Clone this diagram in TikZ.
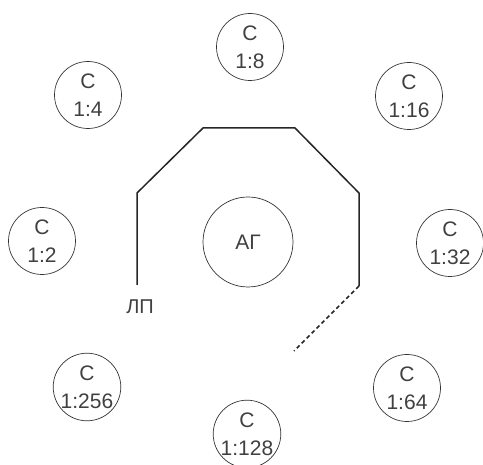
\documentclass[tikz,border=0pt]{standalone}
\usepackage{fontspec}
\setmainfont{Liberation Sans}
\begin{document}
\begin{tikzpicture}[x=1pt,y=-1pt,
  cnode/.style={circle,draw=black!80,line width=0.7pt,minimum size=67pt,inner sep=0pt,align=center,
    font=\fontsize{21}{28}\selectfont,text=black!75},
  agnode/.style={circle,draw=black!80,line width=0.7pt,minimum size=90pt,inner sep=0pt,
    font=\fontsize{21}{25}\selectfont,text=black!75},
  wall/.style={line width=1.5pt,draw=black!85,line join=round},
  dwall/.style={line width=1.5pt,draw=black!85,dash pattern=on 4pt off 3pt}]
\useasboundingbox (0,0) rectangle (483,465);
\node[cnode] (c8) at (250,47) {C\\1:8};
\node[cnode] (c4) at (88,95) {C\\1:4};
\node[cnode] (c16) at (409,96) {C\\1:16};
\node[cnode] (c2) at (42,241) {C\\1:2};
\node[cnode] (c32) at (450,243) {C\\1:32};
\node[cnode] (c256) at (87,387) {C\\1:256};
\node[cnode] (c64) at (407,388) {C\\1:64};
\node[cnode] (c128) at (247,434) {C\\1:128};
\node[agnode] (ag) at (248,242) {АГ};
\coordinate (p1) at (137,285);
\coordinate (p2) at (137,193);
\coordinate (p3) at (203,128);
\coordinate (p4) at (295,128);
\coordinate (p5) at (359,193);
\coordinate (p6) at (359,286);
\coordinate (p7) at (294,351);
\draw[wall] (p1) -- (p2) -- (p3) -- (p4) -- (p5) -- (p6);
\draw[dwall] (p6) -- (p7);
\node[font=\fontsize{20}{24}\selectfont,text=black!75] (lp) at (140,307) {ЛП};
\end{tikzpicture}
\end{document}
